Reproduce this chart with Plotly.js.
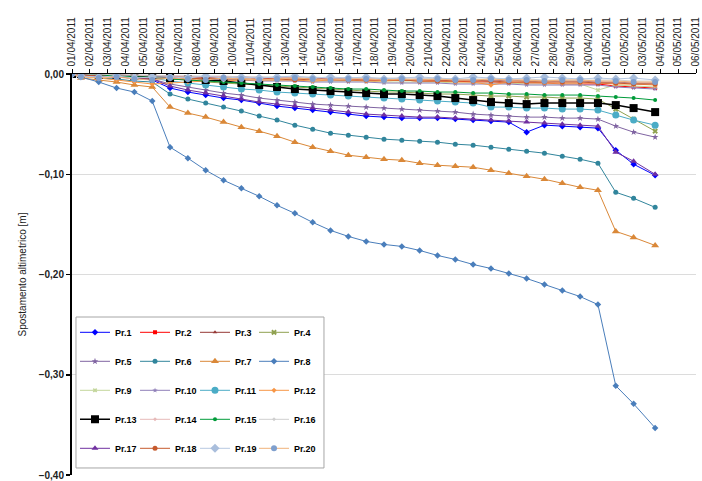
<!DOCTYPE html>
<html>
<head>
<meta charset="utf-8">
<script src="https://cdn.plot.ly/plotly-3.0.1.min.js"></script>
<style>html,body{margin:0;padding:0;background:#fff;}#chart{width:702px;height:481px;}</style>
</head>
<body>
<div id="chart"></div>
<script>
// Reading times: start, then one reading per day (noon), last reading 03/05 afternoon
const times = ['2011-04-01 00:00','2011-04-01 12:00','2011-04-02 12:00','2011-04-03 12:00','2011-04-04 12:00','2011-04-05 12:00',
  '2011-04-06 12:00','2011-04-07 12:00','2011-04-08 12:00','2011-04-09 12:00','2011-04-10 12:00','2011-04-11 12:00',
  '2011-04-12 12:00','2011-04-13 12:00','2011-04-14 12:00','2011-04-15 12:00','2011-04-16 12:00','2011-04-17 12:00',
  '2011-04-18 12:00','2011-04-19 12:00','2011-04-20 12:00','2011-04-21 12:00','2011-04-22 12:00','2011-04-23 12:00',
  '2011-04-24 12:00','2011-04-25 12:00','2011-04-26 12:00','2011-04-27 12:00','2011-04-28 12:00','2011-04-29 12:00',
  '2011-04-30 12:00','2011-05-01 12:00','2011-05-02 12:00','2011-05-03 17:00'];

const xTickLabels = ['01/04/2011','02/04/2011','03/04/2011','04/04/2011','05/04/2011','06/04/2011','07/04/2011','08/04/2011',
  '09/04/2011','10/04/2011','11/04/2011','12/04/2011','13/04/2011','14/04/2011','15/04/2011','16/04/2011','17/04/2011',
  '18/04/2011','19/04/2011','20/04/2011','21/04/2011','22/04/2011','23/04/2011','24/04/2011','25/04/2011','26/04/2011',
  '27/04/2011','28/04/2011','29/04/2011','30/04/2011','01/05/2011','02/05/2011','03/05/2011','04/05/2011','05/05/2011','06/05/2011'];
const yTickVals = [0, -0.1, -0.2, -0.3, -0.4];

const seriesNames = ['Pr.1','Pr.2','Pr.3','Pr.4','Pr.5','Pr.6','Pr.7','Pr.8','Pr.9','Pr.10',
  'Pr.11','Pr.12','Pr.13','Pr.14','Pr.15','Pr.16','Pr.17','Pr.18','Pr.19','Pr.20'];

const pr1  = [0,-0.001,-0.002,-0.003,-0.004,-0.006,-0.014,-0.018,-0.021,-0.024,-0.026,-0.029,-0.032,-0.034,-0.036,-0.038,-0.040,-0.042,-0.043,-0.044,-0.044,-0.044,-0.045,-0.046,-0.047,-0.048,-0.058,-0.051,-0.052,-0.053,-0.054,-0.076,-0.090,-0.101];
const pr2  = [0,0,-0.001,-0.001,-0.002,-0.002,-0.002,-0.003,-0.003,-0.003,-0.003,-0.004,-0.004,-0.004,-0.005,-0.005,-0.005,-0.006,-0.006,-0.006,-0.007,-0.007,-0.007,-0.008,-0.008,-0.009,-0.009,-0.009,-0.010,-0.010,-0.010,-0.012,-0.013,-0.014];
const pr3  = [0,-0.001,-0.001,-0.002,-0.002,-0.002,-0.003,-0.003,-0.003,-0.004,-0.003,-0.004,-0.004,-0.004,-0.005,-0.004,-0.005,-0.005,-0.005,-0.006,-0.005,-0.006,-0.006,-0.006,-0.007,-0.006,-0.007,-0.007,-0.007,-0.007,-0.008,-0.008,-0.009,-0.009];
const pr4  = [0,-0.001,-0.001,-0.002,-0.002,-0.003,-0.005,-0.006,-0.008,-0.009,-0.010,-0.011,-0.012,-0.013,-0.014,-0.015,-0.016,-0.017,-0.018,-0.018,-0.019,-0.020,-0.020,-0.021,-0.022,-0.022,-0.023,-0.023,-0.024,-0.024,-0.025,-0.035,-0.045,-0.057];
const pr5  = [0,-0.001,-0.002,-0.003,-0.004,-0.005,-0.010,-0.013,-0.016,-0.019,-0.021,-0.024,-0.026,-0.028,-0.030,-0.031,-0.032,-0.033,-0.034,-0.035,-0.036,-0.037,-0.038,-0.040,-0.041,-0.042,-0.043,-0.043,-0.044,-0.044,-0.045,-0.052,-0.058,-0.063];
const pr6  = [0,-0.002,-0.004,-0.005,-0.007,-0.008,-0.020,-0.025,-0.029,-0.033,-0.037,-0.042,-0.046,-0.051,-0.055,-0.059,-0.061,-0.063,-0.065,-0.066,-0.067,-0.068,-0.070,-0.071,-0.073,-0.075,-0.077,-0.079,-0.082,-0.085,-0.089,-0.118,-0.124,-0.133];
const pr7  = [0,-0.004,-0.006,-0.008,-0.011,-0.013,-0.033,-0.039,-0.043,-0.048,-0.053,-0.057,-0.062,-0.068,-0.073,-0.077,-0.081,-0.083,-0.085,-0.086,-0.089,-0.091,-0.092,-0.093,-0.096,-0.099,-0.102,-0.105,-0.109,-0.113,-0.116,-0.157,-0.163,-0.171];
const pr8  = [0,-0.003,-0.008,-0.014,-0.018,-0.027,-0.073,-0.084,-0.096,-0.106,-0.114,-0.122,-0.131,-0.139,-0.148,-0.156,-0.162,-0.167,-0.170,-0.172,-0.176,-0.181,-0.185,-0.190,-0.194,-0.199,-0.204,-0.210,-0.216,-0.222,-0.230,-0.311,-0.329,-0.353];
const pr9  = [0,-0.001,-0.002,-0.002,-0.003,-0.003,-0.004,-0.004,-0.005,-0.005,-0.005,-0.006,-0.006,-0.006,-0.007,-0.007,-0.007,-0.007,-0.008,-0.008,-0.008,-0.008,-0.009,-0.009,-0.009,-0.009,-0.010,-0.010,-0.010,-0.010,-0.016,-0.011,-0.012,-0.013];
const pr10 = [0,-0.001,-0.001,-0.002,-0.003,-0.003,-0.004,-0.005,-0.005,-0.006,-0.006,-0.007,-0.007,-0.007,-0.008,-0.008,-0.008,-0.008,-0.009,-0.009,-0.009,-0.009,-0.010,-0.010,-0.010,-0.010,-0.011,-0.011,-0.011,-0.011,-0.011,-0.013,-0.014,-0.015];
const pr11 = [0,-0.001,-0.002,-0.002,-0.003,-0.004,-0.007,-0.009,-0.011,-0.013,-0.015,-0.016,-0.018,-0.019,-0.020,-0.021,-0.022,-0.023,-0.024,-0.025,-0.026,-0.027,-0.028,-0.029,-0.033,-0.033,-0.034,-0.034,-0.035,-0.035,-0.036,-0.041,-0.046,-0.051];
const pr12 = [0,-0.002,-0.004,-0.006,-0.008,-0.010,-0.009,-0.008,-0.007,-0.007,-0.006,-0.006,-0.006,-0.006,-0.007,-0.006,-0.006,-0.007,-0.007,-0.006,-0.007,-0.007,-0.008,-0.008,-0.011,-0.008,-0.008,-0.009,-0.009,-0.009,-0.009,-0.010,-0.010,-0.011];
const pr13 = [0,0,-0.001,-0.001,-0.002,-0.002,-0.004,-0.005,-0.006,-0.007,-0.009,-0.011,-0.013,-0.015,-0.016,-0.017,-0.018,-0.019,-0.020,-0.020,-0.021,-0.022,-0.024,-0.026,-0.028,-0.029,-0.030,-0.029,-0.029,-0.029,-0.029,-0.031,-0.034,-0.038];
const pr14 = [0,0,-0.001,-0.001,-0.001,-0.002,-0.002,-0.002,-0.003,-0.003,-0.003,-0.003,-0.004,-0.004,-0.004,-0.004,-0.004,-0.005,-0.005,-0.005,-0.005,-0.005,-0.006,-0.006,-0.006,-0.006,-0.006,-0.007,-0.007,-0.007,-0.007,-0.008,-0.008,-0.009];
const pr15 = [0,-0.001,-0.001,-0.002,-0.003,-0.003,-0.005,-0.006,-0.007,-0.008,-0.009,-0.010,-0.011,-0.012,-0.013,-0.014,-0.015,-0.015,-0.016,-0.017,-0.017,-0.018,-0.018,-0.019,-0.019,-0.020,-0.020,-0.021,-0.021,-0.021,-0.022,-0.023,-0.024,-0.026];
const pr16 = [0,0,0,-0.001,-0.001,-0.001,-0.002,-0.002,-0.002,-0.002,-0.003,-0.003,-0.003,-0.003,-0.003,-0.004,-0.004,-0.004,-0.004,-0.004,-0.004,-0.005,-0.005,-0.005,-0.005,-0.005,-0.005,-0.006,-0.006,-0.006,-0.006,-0.006,-0.007,-0.007];
const pr17 = [0,-0.001,-0.002,-0.003,-0.004,-0.005,-0.012,-0.016,-0.019,-0.022,-0.025,-0.028,-0.030,-0.032,-0.034,-0.036,-0.038,-0.040,-0.041,-0.042,-0.043,-0.043,-0.044,-0.045,-0.046,-0.047,-0.048,-0.049,-0.050,-0.051,-0.052,-0.078,-0.087,-0.100];
const pr18 = [0,-0.001,-0.002,-0.003,-0.004,-0.004,-0.004,-0.005,-0.004,-0.005,-0.005,-0.005,-0.005,-0.006,-0.005,-0.006,-0.006,-0.006,-0.006,-0.006,-0.007,-0.007,-0.007,-0.007,-0.007,-0.008,-0.008,-0.008,-0.008,-0.008,-0.009,-0.009,-0.010,-0.010];
const pr19 = [0,-0.002,-0.003,-0.002,-0.004,-0.003,-0.003,-0.004,-0.002,-0.004,-0.003,-0.004,-0.003,-0.002,-0.004,-0.003,-0.004,-0.003,-0.005,-0.004,-0.003,-0.004,-0.005,-0.003,-0.004,-0.005,-0.004,-0.003,-0.004,-0.005,-0.004,-0.005,-0.004,-0.006];
const pr20 = [0,-0.003,-0.004,-0.003,-0.005,-0.006,-0.004,-0.005,-0.006,-0.004,-0.005,-0.006,-0.005,-0.004,-0.005,-0.006,-0.005,-0.005,-0.006,-0.005,-0.006,-0.005,-0.006,-0.006,-0.005,-0.006,-0.006,-0.007,-0.006,-0.006,-0.007,-0.007,-0.008,-0.008];

const seriesValues = [pr1,pr2,pr3,pr4,pr5,pr6,pr7,pr8,pr9,pr10,pr11,pr12,pr13,pr14,pr15,pr16,pr17,pr18,pr19,pr20];

const lineColors   = ['#0000FF','#FF0000','#953735','#8FA14F','#8064A2','#31859C','#DA8838','#4A7EBB','#C3D69B','#8F7FB8',
                      '#4BACC6','#F79646','#000000','#E6B9B8','#009B3A','#CFCFCF','#7030A0','#C65A2E','#B7C9E2','#F0B27A'];
const markerColors = ['#0000FF','#FF0000','#953735','#8FA14F','#8064A2','#31859C','#DA8838','#4A7EBB','#C3D69B','#8F7FB8',
                      '#4BACC6','#F79646','#000000','#E6B9B8','#009B3A','#CFCFCF','#7030A0','#C65A2E','#A9BEDC','#7F9FCD'];
const symbols = ['diamond','square','triangle-up','x','star','circle','triangle-up','diamond','x','star',
                 'circle','diamond','square','diamond','circle','diamond','triangle-up','circle','diamond','circle'];
const sizes = [5,4,4,5,5,5,7,5,4,4, 7,4,8,3,4,3,6,5,7,6];

const FONT = 'Arial, "Liberation Sans", sans-serif';

// legend column (1..4) of each series: Pr.1,5,9,13,17 in column 1 etc.
const legendKeys = ['legend', 'legend2', 'legend3', 'legend4'];

const traces = seriesNames.map((name, i) => ({
  type: 'scatter',
  mode: 'lines+markers',
  name: name,
  x: times,
  y: seriesValues[i],
  line: {color: lineColors[i], width: i === 12 ? 1.5 : 1},
  marker: {color: markerColors[i], symbol: symbols[i], size: sizes[i], line: {width: 0, color: markerColors[i]}},
  legend: legendKeys[i % 4],
  legendgroup: name,
  hoverinfo: 'x+y+name'
}));

function dateVal(lbl) {
  const p = lbl.split('/');
  return p[2] + '-' + p[1] + '-' + p[0];
}

const legendColsX = [0.0048, 0.1010, 0.1971, 0.2917];
const legendBase = {
  orientation: 'v', xanchor: 'left', y: 0.392, yanchor: 'top',
  bgcolor: 'rgba(0,0,0,0)', borderwidth: 0, tracegroupgap: 10,
  font: {family: FONT, size: 9, color: '#000', weight: 'bold'},
  itemclick: false, itemdoubleclick: false
};

const layout = {
  width: 702, height: 481,
  margin: {l: 72, r: 6, t: 74, b: 6},
  paper_bgcolor: '#fff', plot_bgcolor: '#fff',
  separators: ',.',
  font: {family: FONT, size: 10, color: '#222'},
  showlegend: true,
  xaxis: {
    type: 'date', side: 'top',
    range: ['2011-04-01 00:00', '2011-05-06 00:00'],
    tickvals: xTickLabels.map(dateVal), ticktext: xTickLabels,
    tickangle: -90, tickfont: {family: FONT, size: 10, color: '#222'},
    ticks: 'outside', ticklen: 4, tickwidth: 1, tickcolor: '#000',
    showline: true, linecolor: '#000', linewidth: 1.5,
    showgrid: false, zeroline: false, fixedrange: true
  },
  yaxis: {
    range: [-0.40, 0],
    tickvals: yTickVals, tickformat: '.2f',
    tickfont: {family: FONT, size: 10, color: '#222', weight: 'bold'},
    ticks: 'outside', ticklen: 4, tickwidth: 1.5, tickcolor: '#000',
    showline: true, linecolor: '#000', linewidth: 2,
    showgrid: true, gridcolor: '#DCDCDC', gridwidth: 1, zeroline: false,
    title: {text: 'Spostamento altimetrico [m]', font: {family: FONT, size: 10, color: '#222'}, standoff: 10},
    fixedrange: true
  },
  shapes: [{
    type: 'rect', xref: 'paper', yref: 'paper', layer: 'above',
    x0: 0.0064, x1: 0.4038, y0: 0.0175, y1: 0.394,
    line: {color: '#A6A6A6', width: 1}, fillcolor: '#FFFFFF'
  }]
};
legendColsX.forEach((xx, c) => {
  layout[legendKeys[c]] = Object.assign({}, legendBase, {x: xx});
});

Plotly.newPlot('chart', traces, layout, {displayModeBar: false, staticPlot: true});
</script>
</body>
</html>
